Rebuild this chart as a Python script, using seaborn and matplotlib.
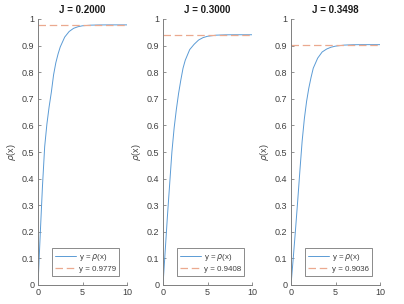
import numpy as np
import pandas as pd
import matplotlib
matplotlib.use('Agg')
import matplotlib.pyplot as plt
import seaborn as sns

# Values
x = [0, 0.25, 0.5, 0.75, 1.0, 1.25, 1.5, 1.75, 2.0, 2.25, 2.5, 3.0, 3.5, 4.0, 4.5, 5.0, 6.0, 7.0, 8.0, 10.0]
rho_j1 = [0, 0.19, 0.37, 0.52, 0.605, 0.67, 0.725, 0.79, 0.835, 0.868, 0.895, 0.932, 0.953,
          0.965, 0.971, 0.9745, 0.977, 0.9777, 0.9779, 0.9779]
rho_j2 = [0, 0.13, 0.26, 0.38, 0.50, 0.59, 0.66, 0.72, 0.77, 0.815, 0.845, 0.885, 0.905,
          0.921, 0.930, 0.935, 0.9393, 0.9405, 0.9408, 0.9408]
rho_j3 = [0, 0.10, 0.205, 0.315, 0.43, 0.54, 0.625, 0.69, 0.74, 0.78, 0.815, 0.853, 0.876,
          0.887, 0.894, 0.898, 0.902, 0.9033, 0.9036, 0.9036]
titles = ['J = 0.2000', 'J = 0.3000', 'J = 0.3498']
limits = [0.9779, 0.9408, 0.9036]
curves = [rho_j1, rho_j2, rho_j3]

sns.set_style('ticks')
plt.rcParams['font.family'] = ['Liberation Sans', 'DejaVu Sans']

fig = plt.figure(figsize=(4.04, 3.04), dpi=100)
lefts = [38 / 404, 163 / 404, 291 / 404]
axis_col = '#7f7f7f'
text_col = '#404040'

for left, title, lim, rho in zip(lefts, titles, limits, curves):
    ax = fig.add_axes([left, 19 / 304, 89 / 404, 266 / 304])
    df = pd.DataFrame({'x': x, 'rho': rho})
    sns.lineplot(data=df, x='x', y='rho', ax=ax, color='#5b9bd5', linewidth=0.7,
                 label=r'y = $\rho$(x)')
    flat = pd.DataFrame({'x': [0, 10], 'y': [lim, lim]})
    sns.lineplot(data=flat, x='x', y='y', ax=ax, color='#eba98f', linewidth=0.9,
                 linestyle=(0, (6, 3)), label='y = %.4f' % lim)
    ax.set_xlim(0, 10)
    ax.set_ylim(0, 1)
    ax.set_xticks([0, 5, 10])
    ax.set_yticks(np.arange(0, 1.01, 0.1))
    ax.set_yticklabels(['0', '0.1', '0.2', '0.3', '0.4', '0.5', '0.6', '0.7', '0.8', '0.9', '1'])
    ax.set_xlabel('')
    ax.set_ylabel(r'$\rho$(x)', fontsize=6.5, color=text_col, labelpad=3)
    ax.set_title(title, fontsize=7, fontweight='bold', color='#1a1a1a', pad=4)
    ax.tick_params(direction='in', length=2.5, width=0.6, labelsize=6.5,
                   colors=axis_col, labelcolor=text_col, pad=2.5)
    sns.despine(ax=ax)
    for s in ['left', 'bottom']:
        ax.spines[s].set_color(axis_col)
        ax.spines[s].set_linewidth(0.7)
    leg = ax.legend(loc='lower right', bbox_to_anchor=(0.91, 0.035), fontsize=5.7,
                    frameon=True, fancybox=False, handlelength=2.7, borderpad=0.4,
                    labelspacing=0.3, handletextpad=0.3, borderaxespad=0)
    leg.get_frame().set_edgecolor('#555555')
    leg.get_frame().set_linewidth(0.6)
    for t in leg.get_texts():
        t.set_color(text_col)

fig.savefig('out.png', dpi=100)
